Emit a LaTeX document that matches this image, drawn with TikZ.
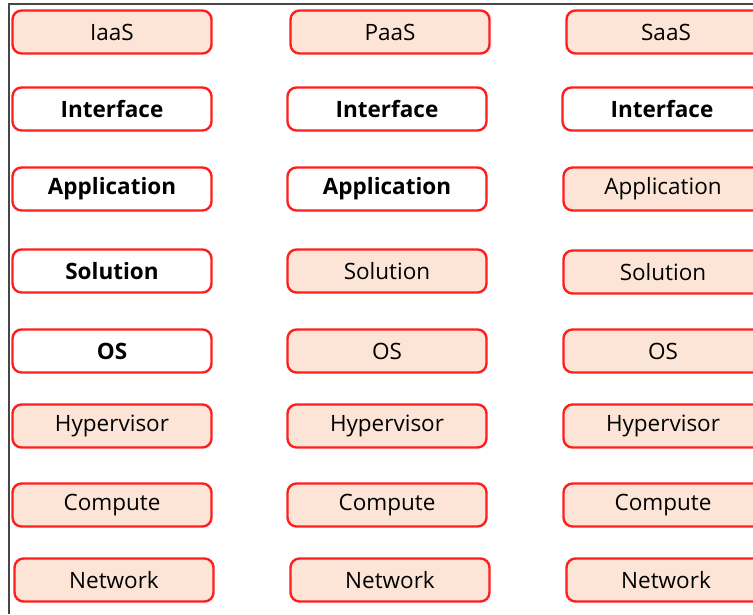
\documentclass[tikz,border=0pt]{standalone}
\usepackage{fontspec}
\setmainfont{Open Sans}
\usetikzlibrary{positioning}

\tikzset{every picture/.style={line width=0.75pt}}
\tikzset{
  layer/.style={draw={rgb,255:red,255;green,30;blue,30}, line width=2.4pt,
    rounded corners=9pt, minimum width=199pt, minimum height=43pt,
    inner sep=0pt, font=\fontsize{22.5}{27}\selectfont},
  shared/.style={layer, fill=peach},
  own/.style={layer, fill=white, font=\fontsize{22.5}{27}\selectfont\bfseries}
}
\definecolor{peach}{RGB}{252,228,214}
\definecolor{rim}{RGB}{70,70,70}

\begin{document}
\begin{tikzpicture}[x=1pt,y=-1pt]
    \useasboundingbox (0,0) rectangle (753,614);
    \draw[rim, line width=1.5pt] (9,614) -- (9,4) -- (753,4);
    % headers
    \node[shared] (iaas) at (112,32) {IaaS};
    \node[shared] (paas) at (390,32) {PaaS};
    \node[shared] (saas) at (666,32) {SaaS};
    % interface
    \node[own] (i-interface) at (112,109) {Interface};
    \node[own] (p-interface) at (387,109) {Interface};
    \node[own] (s-interface) at (662,109) {Interface};
    % application
    \node[own] (i-application) at (112,189) {Application};
    \node[own] (p-application) at (387,189) {Application};
    \node[shared] (s-application) at (663,189) {Application};
    % solution
    \node[own] (i-solution) at (112,271) {Solution};
    \node[shared] (p-solution) at (387,271) {Solution};
    \node[shared] (s-solution) at (663,272) {Solution};
    % os
    \node[own] (i-os) at (112,351) {OS};
    \node[shared] (p-os) at (387,351) {OS};
    \node[shared] (s-os) at (663,351) {OS};
    % hypervisor
    \node[shared] (i-hypervisor) at (112,426) {Hypervisor};
    \node[shared] (p-hypervisor) at (387,426) {Hypervisor};
    \node[shared] (s-hypervisor) at (663,426) {Hypervisor};
    % compute
    \node[shared] (i-compute) at (112,505) {Compute};
    \node[shared] (p-compute) at (387,505) {Compute};
    \node[shared] (s-compute) at (663,505) {Compute};
    % network
    \node[shared] (i-network) at (114,580) {Network};
    \node[shared] (p-network) at (390,580) {Network};
    \node[shared] (s-network) at (666,580) {Network};
\end{tikzpicture}
\end{document}
